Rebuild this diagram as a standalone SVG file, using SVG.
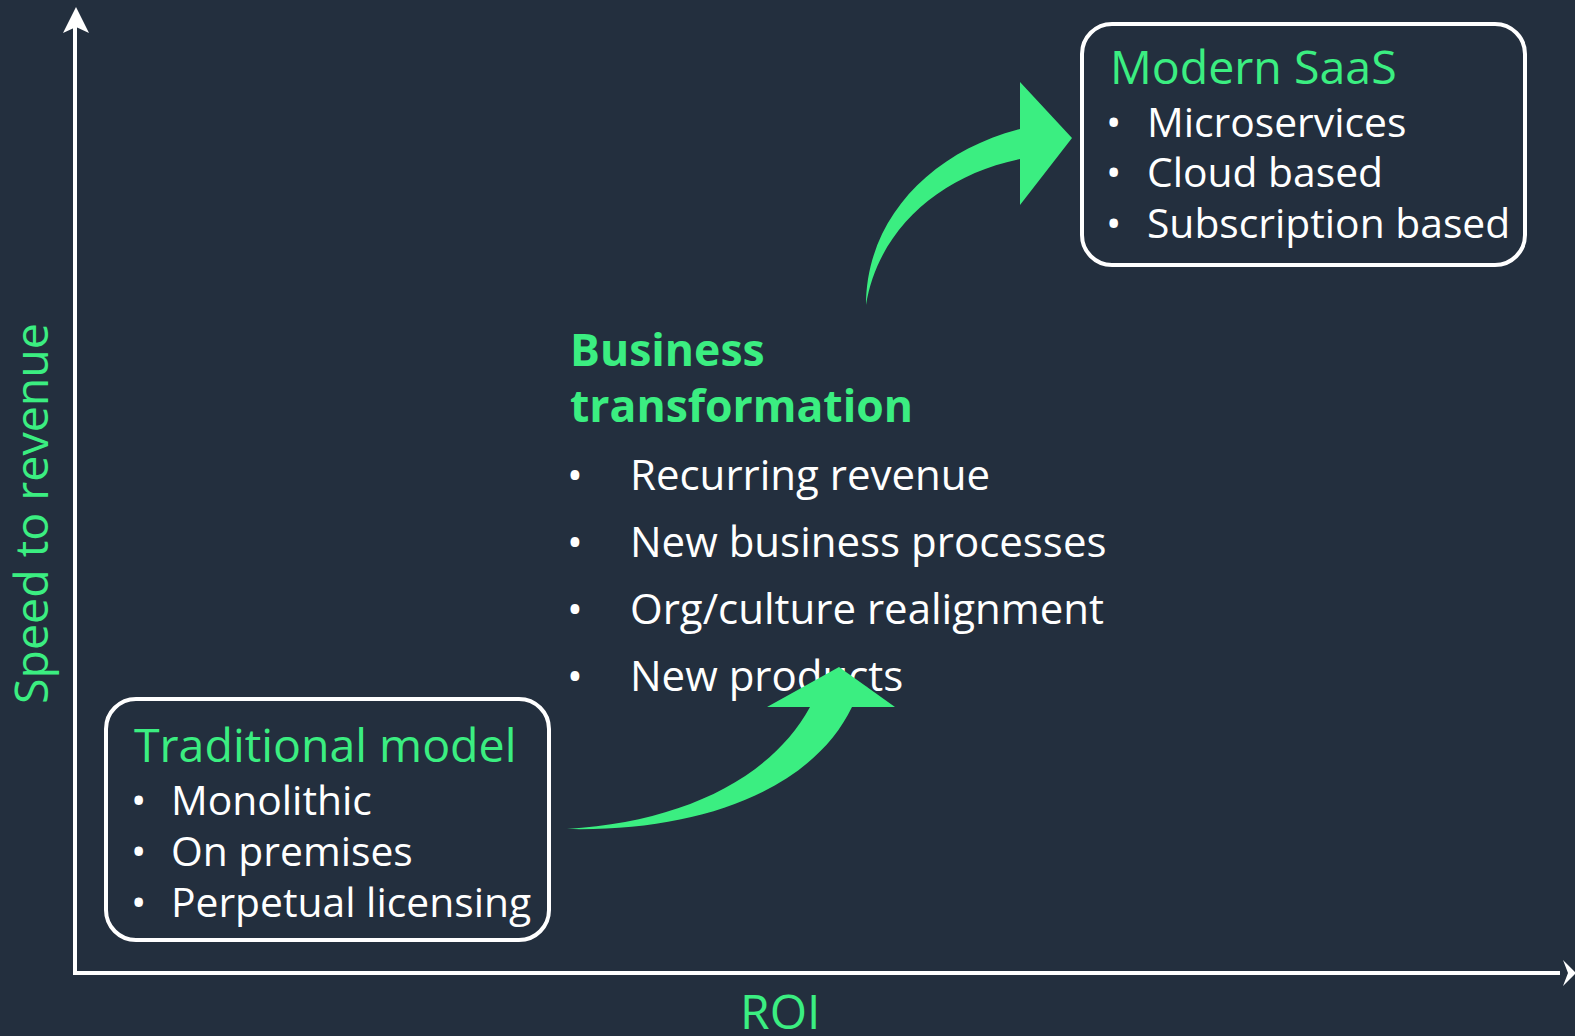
<svg xmlns="http://www.w3.org/2000/svg" width="1575" height="1036" viewBox="0 0 1575 1036">
<style>
text{font-family:"Open Sans","Noto Sans",sans-serif}
.g{fill:#3bee81}
.w{fill:#ffffff}
.t{font-size:46.5px}
.b{font-size:40.8px}
.box{fill:none;stroke:#ffffff;stroke-width:4}
.ax{stroke:#ffffff;stroke-width:4;fill:none}
.arr{fill:#3bee81}
</style>
<rect x="0" y="0" width="1575" height="1036" fill="#232f3e"/>
<g id="axes">
<line class="ax" x1="75" y1="973" x2="75" y2="24"/>
<path fill="#ffffff" d="M76,7 L89,33 L76,27 L63,33 Z"/>
<line class="ax" x1="73" y1="973" x2="1560" y2="973"/>
<path fill="#ffffff" d="M1576,973 L1563,960 L1568,973 L1563,986 Z"/>
<text class="g" font-size="46.5" transform="translate(48,704) rotate(-90)">Speed to revenue</text>
<text class="g" font-size="48" x="740" y="1029">ROI</text>
</g>
<g id="traditional">
<rect class="box" x="106" y="699" width="443" height="241" rx="30"/>
<text class="g t" x="134" y="762">Traditional model</text>
<text class="w b" x="131" y="815">•</text><text class="w b" x="171" y="815">Monolithic</text>
<text class="w b" x="131" y="866">•</text><text class="w b" x="171" y="866">On premises</text>
<text class="w b" x="131" y="917">•</text><text class="w b" x="171" y="917">Perpetual licensing</text>
</g>
<g id="business">
<text class="g" font-size="44.5" font-weight="bold" x="570" y="366">Business</text>
<text class="g" font-size="44.5" font-weight="bold" x="570" y="422">transformation</text>
<text class="w" font-size="42" x="567" y="490">•</text><text class="w" font-size="42" x="630" y="490">Recurring revenue</text>
<text class="w" font-size="42" x="567" y="557">•</text><text class="w" font-size="42" x="630" y="557">New business processes</text>
<text class="w" font-size="42" x="567" y="624">•</text><text class="w" font-size="42" x="630" y="624">Org/culture realignment</text>
<text class="w" font-size="42" x="567" y="691">•</text><text class="w" font-size="42" x="630" y="691">New products</text>
</g>
<g id="modern">
<rect class="box" x="1082" y="24" width="443" height="241" rx="30"/>
<text class="g t" x="1110" y="84">Modern SaaS</text>
<text class="w b" x="1106" y="137">•</text><text class="w b" x="1147" y="137">Microservices</text>
<text class="w b" x="1106" y="187">•</text><text class="w b" x="1147" y="187">Cloud based</text>
<text class="w b" x="1106" y="238">•</text><text class="w b" x="1147" y="238">Subscription based</text>
</g>
<g id="connectors">
<path class="arr" d="M567,829 C680,822 770,780 810,707 L767,707 L839,667 L895,707 L852,707 C812,790 700,832 567,829 Z"/>
<path class="arr" d="M866,305 C866,220 930,152 1020,129 L1020,82 L1072,138 L1020,205 L1020,159 C940,175 878,230 866,305 Z"/>
</g>
</svg>
